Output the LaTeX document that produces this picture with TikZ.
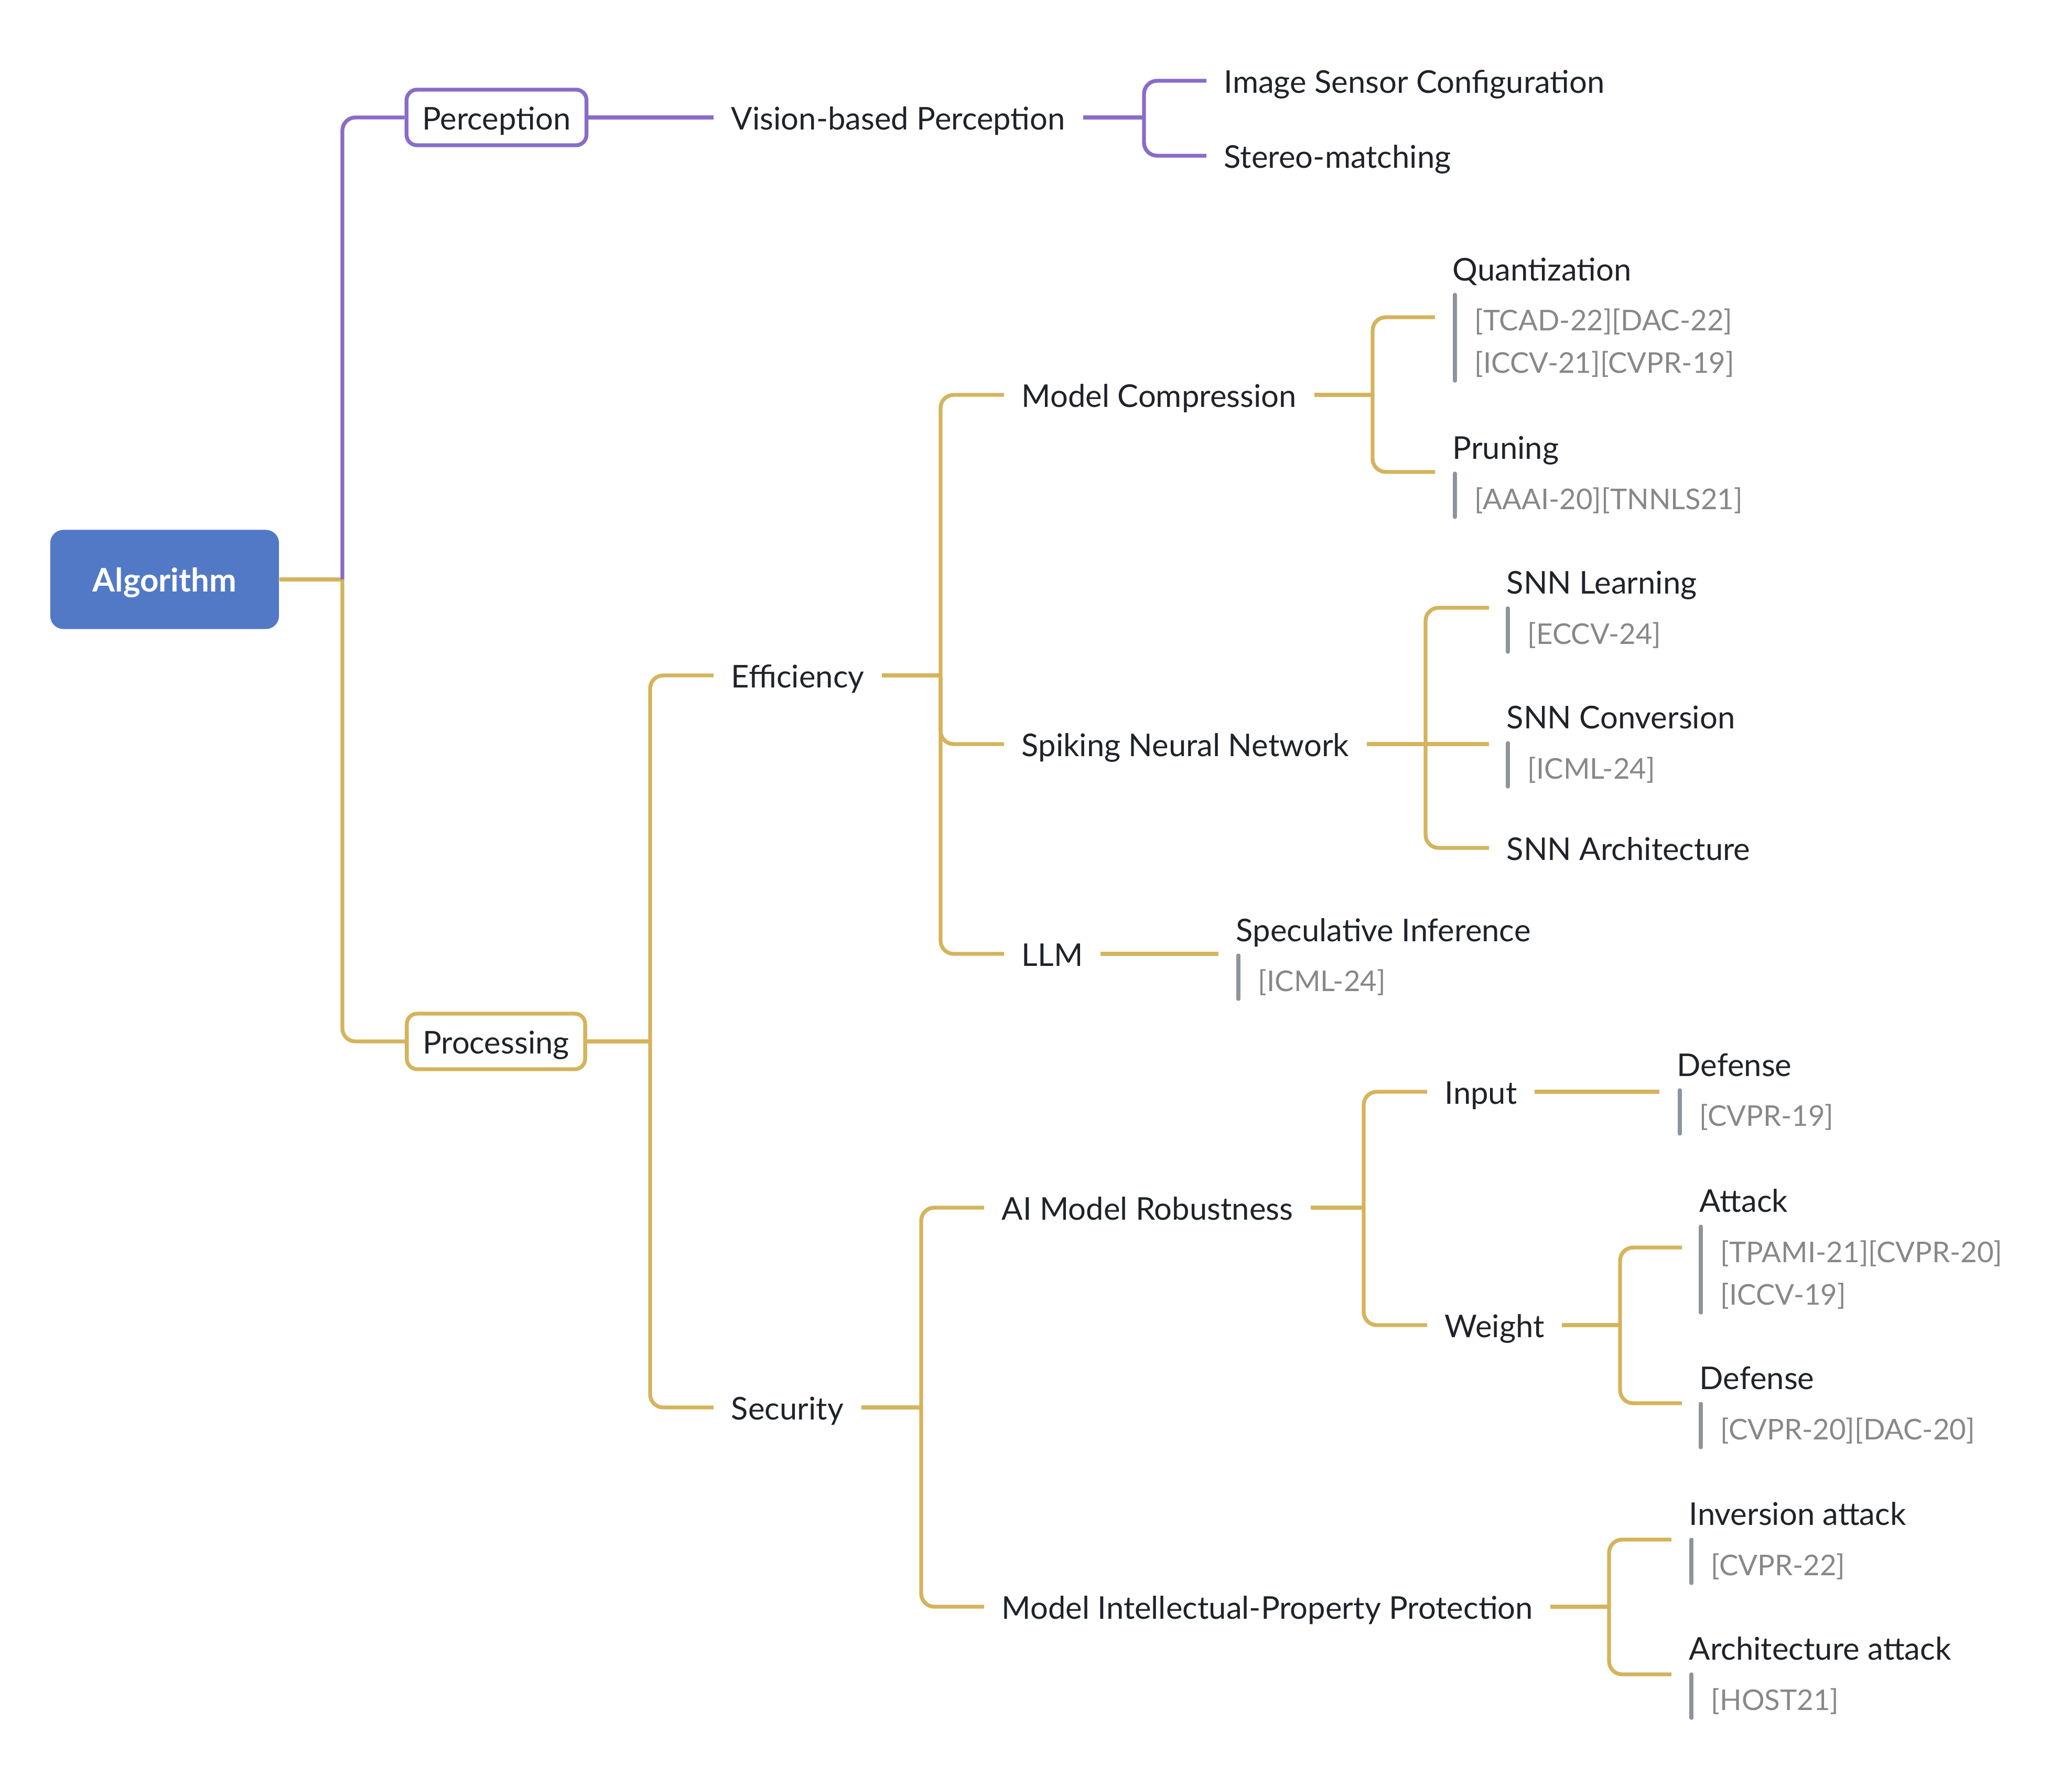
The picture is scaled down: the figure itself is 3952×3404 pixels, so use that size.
\documentclass[tikz,border=0pt]{standalone}
\usepackage{fontspec}
\setmainfont{Lato}
\definecolor{xpurple}{RGB}{137,108,200}
\definecolor{xgold}{RGB}{212,180,92}
\definecolor{xblue}{RGB}{82,121,198}
\definecolor{xbar}{RGB}{142,148,156}
\definecolor{xref}{RGB}{136,136,136}
\definecolor{xtext}{RGB}{31,35,41}

\begin{document}
\begin{tikzpicture}[x=0.01cm,y=-0.01cm,
  every node/.style={font=\fontsize{17}{23}\selectfont,text=xtext},
  topic/.style={anchor=west,inner xsep=0.33cm,inner ysep=0pt,text height=13.4pt,text depth=0pt},
  reflist/.style={topic,inner xsep=0pt,text=xref,font=\fontsize{15.5}{23}\selectfont},
  goldline/.style={draw=xgold,line width=2.1pt,rounded corners=0.25cm},
  purpleline/.style={goldline,draw=xpurple},
  refbar/.style={draw=xbar,line width=2.1pt,line cap=round},
  mainbox/.style={draw,line width=2.1pt,fill=white,rounded corners=0.2cm,minimum height=1.06cm,inner sep=0pt,text height=13.4pt,text depth=0pt}]
\useasboundingbox (0,0) rectangle (3952,3404);

% root and first level
\node[fill=xblue,rounded corners=0.25cm,minimum width=4.36cm,minimum height=1.89cm,text=white,text height=13.4pt,text depth=0pt,font=\fontsize{17.6}{20}\selectfont\bfseries] (algo) at (314,1105) {Algorithm};
\node[mainbox,draw=xpurple,minimum width=3.43cm] (perc) at (947,224) {Perception};
\node[mainbox,draw=xgold,minimum width=3.40cm] (proc) at (946,1986) {Processing};
\coordinate (trunk) at (653,1105);
\draw[goldline] (algo.east) -- (trunk);
\draw[goldline] (trunk) |- (proc.west);
\draw[purpleline] (trunk) |- (perc.west);

% perception
\node[topic] (vision) at (1361,224) {Vision-based Perception};
\node[topic] (imgsens) at (2301,154) {Image Sensor Configuration};
\node[topic] (stereo) at (2301,297) {Stereo-matching};
\coordinate (vis-fork) at (2182,224);
\draw[purpleline] (perc.east) -- (vision.west);
\draw[purpleline] (vision.east) -- (vis-fork);
\draw[purpleline] (vis-fork) |- (imgsens.west);
\draw[purpleline] (vis-fork) |- (stereo.west);

% processing
\node[topic] (effic) at (1361,1288) {Efficiency};
\node[topic] (secur) at (1361,2684) {Security};
\coordinate (proc-fork) at (1240,1986);
\draw[goldline] (proc.east) -- (proc-fork);
\draw[goldline] (proc-fork) |- (effic.west);
\draw[goldline] (proc-fork) |- (secur.west);

% efficiency
\node[topic] (modelc) at (1915,753) {Model Compression};
\node[topic] (snn) at (1915,1419) {Spiking Neural Network};
\node[topic] (llm) at (1915,1819) {LLM};
\coordinate (eff-fork) at (1794,1288);
\draw[goldline] (effic.east) -- (eff-fork);
\draw[goldline] (eff-fork) |- (modelc.west);
\draw[goldline] (eff-fork) |- (snn.west);
\draw[goldline] (eff-fork) |- (llm.west);

\node[topic] (quant) at (2737,512) {Quantization};
\node[reflist] (quant-r) at (2812,607) {\begin{tabular}[t]{@{}l@{}}[TCAD-22][DAC-22]\\{}[ICCV-21][CVPR-19]\end{tabular}};
\draw[refbar] ([shift={(-37,-45)}]quant-r.west) -- ++(0,164);
\node[topic] (prune) at (2737,852) {Pruning};
\node[reflist] (prune-r) at (2812,948) {[AAAI-20][TNNLS21]};
\draw[refbar] ([shift={(-37,-45)}]prune-r.west) -- ++(0,83);
\coordinate (mc-fork) at (2618,753);
\coordinate (quant-in) at (2737,605);
\coordinate (prune-in) at (2737,900);
\draw[goldline] (modelc.east) -- (mc-fork);
\draw[goldline] (mc-fork) |- (quant-in);
\draw[goldline] (mc-fork) |- (prune-in);

\node[topic] (snnlearn) at (2840,1109) {SNN Learning};
\node[reflist] (snnlearn-r) at (2913,1205) {[ECCV-24]};
\draw[refbar] ([shift={(-37,-45)}]snnlearn-r.west) -- ++(0,83);
\node[topic] (snnconv) at (2840,1366) {SNN Conversion};
\node[reflist] (snnconv-r) at (2913,1462) {[ICML-24]};
\draw[refbar] ([shift={(-37,-45)}]snnconv-r.west) -- ++(0,83);
\node[topic] (snnarch) at (2840,1617) {SNN Architecture};
\coordinate (snn-fork) at (2719,1419);
\coordinate (snnlearn-in) at (2840,1159);
\coordinate (snnconv-in) at (2840,1419);
\draw[goldline] (snn.east) -- (snn-fork);
\draw[goldline] (snn-fork) |- (snnlearn-in);
\draw[goldline] (snn-fork) -- (snnconv-in);
\draw[goldline] (snn-fork) |- (snnarch.west);

\node[topic] (specinf) at (2324,1772) {Speculative Inference};
\node[reflist] (specinf-r) at (2399,1867) {[ICML-24]};
\draw[refbar] ([shift={(-37,-45)}]specinf-r.west) -- ++(0,83);
\coordinate (specinf-in) at (2324,1819);
\draw[goldline] (llm.east) -- (specinf-in);

% security
\node[topic] (airob) at (1877,2303) {AI Model Robustness};
\node[topic] (ipprot) at (1877,3064) {Model Intellectual-Property Protection};
\coordinate (sec-fork) at (1757,2684);
\draw[goldline] (secur.east) -- (sec-fork);
\draw[goldline] (sec-fork) |- (airob.west);
\draw[goldline] (sec-fork) |- (ipprot.west);

\node[topic] (input) at (2722,2082) {Input};
\node[topic] (weight) at (2722,2527) {Weight};
\coordinate (air-fork) at (2601,2303);
\draw[goldline] (airob.east) -- (air-fork);
\draw[goldline] (air-fork) |- (input.west);
\draw[goldline] (air-fork) |- (weight.west);

\node[topic] (def1) at (3165,2029) {Defense};
\node[reflist] (def1-r) at (3241,2124) {[CVPR-19]};
\draw[refbar] ([shift={(-37,-45)}]def1-r.west) -- ++(0,83);
\coordinate (def1-in) at (3165,2082);
\draw[goldline] (input.east) -- (def1-in);

\node[topic] (attack) at (3208,2288) {Attack};
\node[reflist] (attack-r) at (3281,2384) {\begin{tabular}[t]{@{}l@{}}[TPAMI-21][CVPR-20]\\{}[ICCV-19]\end{tabular}};
\draw[refbar] ([shift={(-37,-45)}]attack-r.west) -- ++(0,164);
\node[topic] (def2) at (3208,2626) {Defense};
\node[reflist] (def2-r) at (3281,2722) {[CVPR-20][DAC-20]};
\draw[refbar] ([shift={(-37,-45)}]def2-r.west) -- ++(0,83);
\coordinate (wt-fork) at (3090,2527);
\coordinate (attack-in) at (3208,2379);
\coordinate (def2-in) at (3208,2676);
\draw[goldline] (weight.east) -- (wt-fork);
\draw[goldline] (wt-fork) |- (attack-in);
\draw[goldline] (wt-fork) |- (def2-in);

\node[topic] (invers) at (3188,2885) {Inversion attack};
\node[reflist] (invers-r) at (3263,2981) {[CVPR-22]};
\draw[refbar] ([shift={(-37,-45)}]invers-r.west) -- ++(0,83);
\node[topic] (archatt) at (3188,3142) {Architecture attack};
\node[reflist] (archatt-r) at (3263,3238) {[HOST21]};
\draw[refbar] ([shift={(-37,-45)}]archatt-r.west) -- ++(0,83);
\coordinate (ip-fork) at (3069,3064);
\coordinate (invers-in) at (3188,2936);
\coordinate (archatt-in) at (3188,3193);
\draw[goldline] (ipprot.east) -- (ip-fork);
\draw[goldline] (ip-fork) |- (invers-in);
\draw[goldline] (ip-fork) |- (archatt-in);
\end{tikzpicture}
\end{document}
